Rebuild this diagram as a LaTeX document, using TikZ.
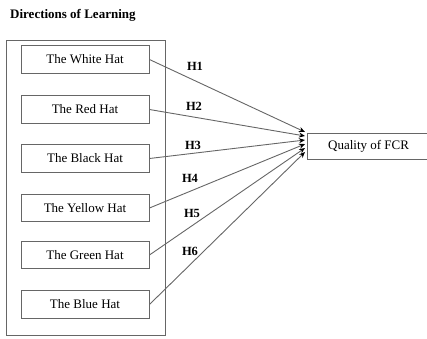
\documentclass[tikz,border=0pt]{standalone}
\usepackage{fontspec}
\setmainfont{Liberation Serif}
\usetikzlibrary{arrows.meta}
\definecolor{linegray}{HTML}{666666}
\begin{document}
\begin{tikzpicture}[x=1pt,y=-1pt,
  every node/.style={font=\fontsize{13}{15}\selectfont},
  hatbox/.style={draw=linegray, line width=0.9pt, minimum width=128pt, minimum height=27.5pt, inner sep=0pt},
  hlabel/.style={font=\fontsize{12.5}{15}\selectfont\bfseries, inner sep=0pt},
  link/.style={draw=linegray, line width=0.9pt, -{Stealth[length=6pt,width=5pt,color=black]}}]
\clip (0,0) rectangle (427,338);
\useasboundingbox (0,0) rectangle (427,338);
\node[font=\fontsize{13}{15}\selectfont\bfseries, anchor=base west, inner sep=0pt] (title) at (10,18.5) {Directions of Learning};
\node[draw=linegray, line width=0.9pt, minimum width=159.7pt, minimum height=294.3pt, inner sep=0pt] (outer) at (85.85,187.85) {};
\node[hatbox] (white) at (85,59.5) {The White Hat};
\node[hatbox] (red) at (85,109.5) {The Red Hat};
\node[hatbox] (black) at (85,158.5) {The Black Hat};
\node[hatbox] (yellow) at (85,208) {The Yellow Hat};
\node[hatbox] (green) at (85,255) {The Green Hat};
\node[hatbox] (blue) at (85,304.5) {The Blue Hat};
\node[draw=linegray, line width=0.9pt, anchor=west, minimum height=26pt, inner xsep=21pt, inner ysep=0pt] (fcr) at (306.7,146) {\makebox[120pt][l]{Quality of FCR}};
\coordinate (e1) at (305,132);
\coordinate (e2) at (305,136);
\coordinate (e3) at (305,140);
\coordinate (e4) at (305,144);
\coordinate (e5) at (305,148);
\coordinate (e6) at (305,152);
\draw[link] (white.east) -- (e1);
\draw[link] (red.east) -- (e2);
\draw[link] (black.east) -- (e3);
\draw[link] (yellow.east) -- (e4);
\draw[link] (green.east) -- (e5);
\draw[link] (blue.east) -- (e6);
\node[hlabel] (h1) at (195,66) {H1};
\node[hlabel] (h2) at (194,106) {H2};
\node[hlabel] (h3) at (193,145) {H3};
\node[hlabel] (h4) at (190,178) {H4};
\node[hlabel] (h5) at (192,213) {H5};
\node[hlabel] (h6) at (190,251) {H6};
\end{tikzpicture}
\end{document}
